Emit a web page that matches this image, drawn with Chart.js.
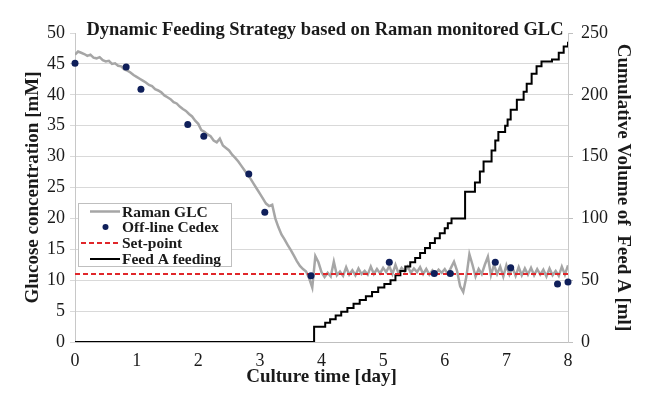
<!DOCTYPE html>
<html>
<head>
<meta charset="utf-8">
<title>Dynamic Feeding Strategy</title>
<script src="https://cdn.jsdelivr.net/npm/chart.js@4.4.1/dist/chart.umd.min.js"></script>
<style>
  html, body { margin: 0; padding: 0; background: #fff; }
  #wrap { width: 650px; height: 398px; }
</style>
</head>
<body>
<div id="wrap"><canvas id="chart" width="650" height="398"></canvas></div>
<script>
(function(){
    "use strict";

    // Raman glucose readings, one every 0.05 day from day 0
    const ramanStep = 0.05;
    const ramanGlc = [
        46.5, 47.0, 46.8, 46.6, 46.3, 46.5, 46.0, 45.9, 46.1, 45.6, 45.4, 45.5, 45.0, 45.1, 44.7, 44.6, 44.1, 43.9, 43.6, 43.2,
        42.9, 42.6, 42.3, 42.0, 41.6, 41.4, 40.9, 40.7, 40.4, 39.9, 39.6, 39.3, 38.8, 38.6, 38.1, 37.7, 37.4, 36.9, 36.5, 35.8,
        35.3, 34.3, 34.0, 33.6, 33.3, 32.6, 32.3, 32.9, 31.8, 31.4, 31.0, 30.3, 29.8, 29.2, 28.5, 27.8, 27.1, 26.4, 25.6, 24.8,
        24.0, 23.2, 22.4, 22.0, 22.2, 20.0, 18.6, 17.4, 16.6, 15.7, 14.9, 14.0, 13.1, 12.3, 11.8, 11.4, 10.3, 8.8, 13.9, 12.9,
        11.3, 10.5, 11.2, 10.6, 13.0, 10.8, 11.4, 10.7, 12.1, 10.9, 11.6, 10.8, 11.9, 11.0, 11.5, 10.9, 12.2, 11.0, 11.8, 11.1,
        12.0, 11.3, 12.3, 11.0, 12.5, 11.1, 12.0, 11.4, 12.2, 11.2, 11.9, 11.3, 12.1, 11.0, 11.8, 10.9, 11.6, 11.0, 11.7, 11.2,
        11.8, 11.0, 12.0, 13.0, 11.5, 9.0, 8.1, 10.5, 14.2, 12.5, 10.6, 11.8, 11.0, 12.5, 13.8, 10.8, 12.5, 11.0, 12.2, 10.6,
        12.4, 10.9, 12.0, 10.7, 12.1, 10.8, 11.9, 10.9, 12.0, 10.8, 11.8, 10.9, 11.7, 10.6, 11.9, 10.8, 11.5, 10.7, 12.2, 10.9,
        12.4
    ];

    // off-line Cedex samples
    const cedexDay = [0, 0.83, 1.07, 1.83, 2.09, 2.82, 3.08, 3.83, 5.1, 5.83, 6.09, 6.82, 7.07, 7.83, 8.0];
    const cedexGlc = [45.1, 44.5, 40.9, 35.2, 33.3, 27.2, 21.0, 10.7, 12.9, 11.1, 11.1, 12.9, 12.0, 9.4, 9.7];

    const setPointDay = [0, 8];
    const setPointGlc = [11, 11];

    // cumulative feed A volume, each point is a bolus (day, ml after it)
    const feedDay = [0, 3.88, 4.06, 4.14, 4.23, 4.32, 4.42, 4.52, 4.62, 4.72, 4.82, 4.92, 5.02, 5.12, 5.20,
        5.28, 5.36, 5.44, 5.52, 5.60, 5.68, 5.76, 5.84, 5.92, 6.00, 6.05, 6.11, 6.33, 6.49, 6.57, 6.63,
        6.76, 6.82, 6.87, 6.98, 7.02, 7.07, 7.17, 7.28, 7.33, 7.41, 7.49, 7.57, 7.74, 7.85, 7.93, 8.0];
    const feedVolume = [0, 12.4, 15.5, 18.5, 21.5, 24.5, 27.5, 31.0, 34.0, 37.0, 40.5, 44.0, 47.0, 50.0, 54.0,
        57.5, 61.0, 64.5, 68.0, 72.0, 76.0, 80.0, 84.0, 88.0, 92.0, 96.0, 100.0, 121.5, 129.0, 138.0, 146.0,
        155.0, 163.0, 170.0, 175.0, 180.0, 188.0, 196.0, 202.5, 209.0, 217.0, 223.0, 227.0, 228.5, 234.0, 239.0, 243.0];

    const titleText = 'Dynamic Feeding Strategy based on Raman monitored GLC';
    const serif = '"Liberation Serif", "Times New Roman", serif';
    const inkColor = '#1a1a1a';
    const gridColor = '#d9d9d9';
    const tickFont = { family: serif, size: 18 };
    const axisTitleFont = { family: serif, size: 19, weight: 'bold' };

    function toPoints(xs, ys) {
        return xs.map(function(x, i){ return { x: x, y: ys[i] }; });
    }

    const ramanPoints = ramanGlc.map(function(v, i){ return { x: i * ramanStep, y: v }; });

    // title sits on top of the plot, legend floats in the lower-left
    const overlay = {
        id: 'overlay',
        afterDraw(chart) {
            const ctx = chart.ctx;
            ctx.save();
            ctx.font = 'bold 18.5px ' + serif;
            ctx.fillStyle = inkColor;
            ctx.textAlign = 'center';
            ctx.textBaseline = 'middle';
            ctx.fillText(titleText, 325, 30);

            const box = { x: 78, y: 203, w: 153, h: 63 };
            ctx.fillStyle = '#fff';
            ctx.fillRect(box.x, box.y, box.w, box.h);
            ctx.strokeStyle = '#bfbfbf';
            ctx.lineWidth = 1;
            ctx.strokeRect(box.x + 0.5, box.y + 0.5, box.w, box.h);

            const rows = [211.5, 227, 243, 259];
            const sets = chart.data.datasets;
            ctx.font = 'bold 15.5px ' + serif;
            ctx.textAlign = 'left';
            sets.forEach(function(ds, i){
                const y = rows[i];
                if (ds.showLine === false) {
                    ctx.fillStyle = ds.pointBackgroundColor;
                    ctx.beginPath();
                    ctx.arc(105.5, y, 3, 0, Math.PI * 2);
                    ctx.fill();
                } else {
                    ctx.strokeStyle = ds.borderColor;
                    ctx.lineWidth = ds.borderWidth;
                    ctx.setLineDash(ds.borderDash || []);
                    ctx.beginPath();
                    ctx.moveTo(ds.borderDash ? 81 : 90, y);
                    ctx.lineTo(120, y);
                    ctx.stroke();
                    ctx.setLineDash([]);
                }
                ctx.fillStyle = inkColor;
                ctx.fillText(ds.label, 122, y + 1);
            });
            ctx.restore();
        }
    };

    const chart = new Chart(document.getElementById('chart'), {
        type: 'line',
        data: {
            datasets: [
                {
                    label: 'Raman GLC',
                    data: ramanPoints,
                    yAxisID: 'y',
                    borderColor: '#a6a6a6',
                    borderWidth: 2.5,
                    pointRadius: 0,
                    tension: 0,
                    order: 4
                },
                {
                    label: 'Off-line Cedex',
                    data: toPoints(cedexDay, cedexGlc),
                    yAxisID: 'y',
                    showLine: false,
                    pointRadius: 3.5,
                    pointBorderWidth: 0,
                    pointBackgroundColor: '#0f1f5a',
                    borderColor: '#0f1f5a',
                    clip: false,
                    order: 1
                },
                {
                    label: 'Set-point',
                    data: toPoints(setPointDay, setPointGlc),
                    yAxisID: 'y',
                    borderColor: '#e0262a',
                    borderWidth: 2,
                    borderDash: [5, 3],
                    pointRadius: 0,
                    order: 2
                },
                {
                    label: 'Feed A feeding',
                    data: toPoints(feedDay, feedVolume),
                    yAxisID: 'y2',
                    borderColor: '#000',
                    borderWidth: 2,
                    stepped: true,
                    pointRadius: 0,
                    order: 3
                }
            ]
        },
        options: {
            responsive: false,
            animation: false,
            devicePixelRatio: 1,
            layout: { padding: { top: 33, left: 0, right: 0, bottom: 0 } },
            plugins: {
                legend: { display: false },
                tooltip: { enabled: false }
            },
            scales: {
                x: {
                    type: 'linear',
                    min: 0,
                    max: 8,
                    ticks: { stepSize: 1, padding: 0, color: inkColor, font: tickFont },
                    grid: { display: false },
                    border: { color: '#bfbfbf' },
                    title: {
                        display: true,
                        text: 'Culture time [day]',
                        color: inkColor,
                        font: axisTitleFont,
                        padding: { top: 0, bottom: 9.5 }
                    },
                    afterFit(scale) { scale.height = 56; }
                },
                y: {
                    position: 'left',
                    min: 0,
                    max: 50,
                    ticks: { stepSize: 5, padding: 5, color: inkColor, font: tickFont },
                    grid: {
                        color: function(c){ return c.tick && c.tick.value === 50 ? 'rgba(0,0,0,0)' : gridColor; },
                        tickLength: 5,
                        tickColor: gridColor
                    },
                    border: { color: '#c8c8c8' },
                    title: {
                        display: true,
                        text: 'Glucose concentration [mM]',
                        color: inkColor,
                        font: axisTitleFont,
                        padding: { top: 21.5, bottom: 0 }
                    },
                    afterFit(scale) { scale.width = 75; }
                },
                y2: {
                    position: 'right',
                    min: 0,
                    max: 250,
                    ticks: { stepSize: 50, padding: 8, color: inkColor, font: tickFont },
                    grid: { drawOnChartArea: false, tickLength: 5, tickColor: '#bfbfbf' },
                    border: { color: '#c8c8c8' },
                    title: {
                        display: true,
                        text: 'Cumulative Volume of  Feed A [ml]',
                        color: inkColor,
                        font: axisTitleFont,
                        padding: { top: 15.5, bottom: 0 }
                    },
                    afterFit(scale) { scale.width = 82; }
                }
            }
        },
        plugins: [overlay]
    });
})();
</script>
</body>
</html>
